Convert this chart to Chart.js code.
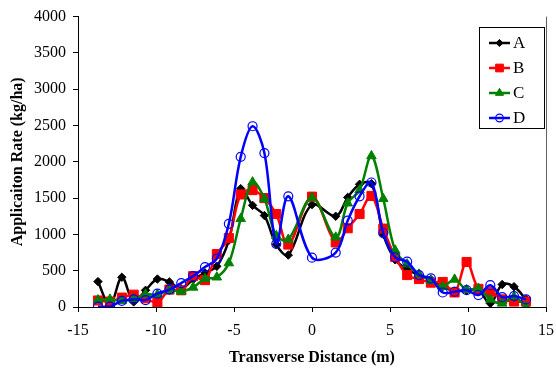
<!DOCTYPE html>
<html>
<head>
<meta charset="utf-8">
<script src="https://cdn.jsdelivr.net/npm/chart.js@4.4.1/dist/chart.umd.min.js"></script>
<style>
  html, body { margin: 0; padding: 0; background: #fff; }
  #wrap { width: 556px; height: 371px; position: relative; }
</style>
</head>
<body>
<div id="wrap"><canvas id="c" width="556" height="371"></canvas></div>
<script>
// Sampling positions across the swath (m)
const distance = [-13.72, -12.95, -12.19, -11.43, -10.67, -9.91, -9.14, -8.38, -7.62, -6.86,
  -6.10, -5.33, -4.57, -3.81, -3.05, -2.29, -1.52, 0, 1.52, 2.29, 3.05, 3.81, 4.57, 5.33,
  6.10, 6.86, 7.62, 8.38, 9.14, 9.91, 10.67, 11.43, 12.19, 12.95, 13.72];

// Application rate (kg/ha) for each pass
const seriesA = [350, 20, 410, 70, 230, 385, 345, 250, 380, 470, 560, 920, 1630, 1400, 1260, 860, 715,
  1410, 1250, 1510, 1690, 1700, 1000, 650, 520, 440, 380, 280, 220, 230, 230, 50, 310, 280, 105];
const seriesB = [90, 75, 130, 170, 120, 60, 240, 230, 425, 370, 730, 950, 1550, 1610, 1500, 1280, 860,
  1520, 890, 1085, 1280, 1530, 1080, 690, 440, 385, 335, 345, 200, 620, 250, 210, 105, 75, 75];
const seriesC = [95, 105, 85, 110, 175, 170, 230, 215, 270, 390, 410, 605, 1215, 1720, 1490, 980, 930,
  1505, 960, 1430, 1610, 2080, 1490, 780, 590, 450, 360, 280, 380, 235, 255, 105, 50, 140, 5];
const seriesD = [5, 5, 85, 105, 95, 185, 240, 330, 425, 550, 665, 1146, 2068, 2490, 2120, 870, 1525,
  680, 750, 1190, 1525, 1715, 1018, 685, 625, 440, 395, 200, 210, 233, 165, 300, 135, 150, 105];

const seriesNames = ['A', 'B', 'C', 'D'];
const xTitle = 'Transverse Distance (m)';
const yTitle = 'Applicaiton Rate (kg/ha)';

const SERIF = "'Liberation Serif', 'Times New Roman', serif";

function pts(values) {
  return values.map((v, i) => ({ x: distance[i], y: v }));
}

const styles = [
  { color: '#000000', pointStyle: 'rectRot', radius: 4.2, fill: '#000000' },
  { color: '#FF0000', pointStyle: 'rect', radius: 6.4, fill: '#FF0000' },
  { color: '#008000', pointStyle: 'triangle', radius: 5.5, fill: '#008000' },
  { color: '#0000FF', pointStyle: 'circle', radius: 4.5, fill: 'rgba(0,0,0,0)' }
];
const values = [seriesA, seriesB, seriesC, seriesD];

const datasets = values.map((v, i) => ({
  label: seriesNames[i],
  data: pts(v),
  borderColor: styles[i].color,
  backgroundColor: styles[i].fill,
  borderWidth: 2.5,
  tension: 0.35,
  pointStyle: styles[i].pointStyle,
  pointRadius: styles[i].radius,
  pointBorderColor: styles[i].color,
  pointBackgroundColor: styles[i].fill,
  pointBorderWidth: i === 3 ? 1.2 : 1,
  fill: false,
  order: 4 - i
}));

// Boxed legend inside the plot, with line + marker samples
const boxLegend = {
  id: 'boxLegend',
  afterDraw(chart) {
    const ctx = chart.ctx;
    const ca = chart.chartArea;
    ctx.save();
    // right edge of the plot frame
    ctx.strokeStyle = '#606060';
    ctx.lineWidth = 1;
    ctx.beginPath();
    ctx.moveTo(ca.right + 0.5, ca.top);
    ctx.lineTo(ca.right + 0.5, ca.bottom);
    ctx.stroke();

    const bx = 479.5, by = 27.5, bw = 65, bh = 101;
    ctx.fillStyle = '#ffffff';
    ctx.fillRect(bx, by, bw, bh);
    ctx.strokeStyle = '#000000';
    ctx.lineWidth = 1;
    ctx.strokeRect(bx, by, bw, bh);

    chart.data.datasets.forEach((ds, i) => {
      const y = 43 + 25 * i;
      ctx.strokeStyle = ds.borderColor;
      ctx.lineWidth = 2.5;
      ctx.beginPath();
      ctx.moveTo(489, y);
      ctx.lineTo(510, y);
      ctx.stroke();
      ctx.fillStyle = ds.pointBackgroundColor;
      ctx.strokeStyle = ds.pointBorderColor;
      ctx.lineWidth = ds.pointBorderWidth;
      Chart.helpers.drawPoint(ctx, {
        pointStyle: ds.pointStyle,
        radius: ds.pointRadius * 0.85,
        rotation: 0,
        borderWidth: ds.pointBorderWidth
      }, 499.5, y);
      ctx.fillStyle = '#000000';
      ctx.font = '17px ' + SERIF;
      ctx.textAlign = 'left';
      ctx.textBaseline = 'middle';
      ctx.fillText(ds.label, 513, y + 1);
    });
    ctx.restore();
  }
};

new Chart(document.getElementById('c'), {
  type: 'line',
  data: { datasets },
  plugins: [boxLegend],
  options: {
    responsive: false,
    animation: false,
    events: [],
    layout: { padding: { top: 15, right: 0, left: 0, bottom: 0 } },
    plugins: {
      legend: { display: false },
      tooltip: { enabled: false }
    },
    scales: {
      x: {
        type: 'linear',
        min: -15,
        max: 15,
        ticks: {
          stepSize: 5,
          color: '#000',
          font: { family: SERIF, size: 16 },
          padding: 9,
          maxRotation: 0
        },
        grid: { display: true, drawOnChartArea: false, drawTicks: true, tickLength: 5, color: '#000' },
        border: { display: true, color: '#000', width: 1 },
        title: {
          display: true,
          text: xTitle,
          color: '#000',
          font: { family: SERIF, size: 16, weight: 'bold' },
          padding: { top: 0, bottom: 4 }
        },
        afterFit(scale) { scale.height = 64; scale.paddingRight = 10; }
      },
      y: {
        type: 'linear',
        min: 0,
        max: 4000,
        ticks: {
          stepSize: 500,
          color: '#000',
          font: { family: SERIF, size: 16 },
          padding: 7,
          callback: (v) => String(v)
        },
        grid: { display: true, drawOnChartArea: false, drawTicks: true, tickLength: 5, color: '#000' },
        border: { display: true, color: '#000', width: 1 },
        title: {
          display: true,
          text: yTitle,
          color: '#000',
          font: { family: SERIF, size: 16, weight: 'bold' },
          padding: { top: 8, bottom: 0 }
        },
        afterFit(scale) { scale.width = 78; }
      }
    }
  }
});
</script>
</body>
</html>
